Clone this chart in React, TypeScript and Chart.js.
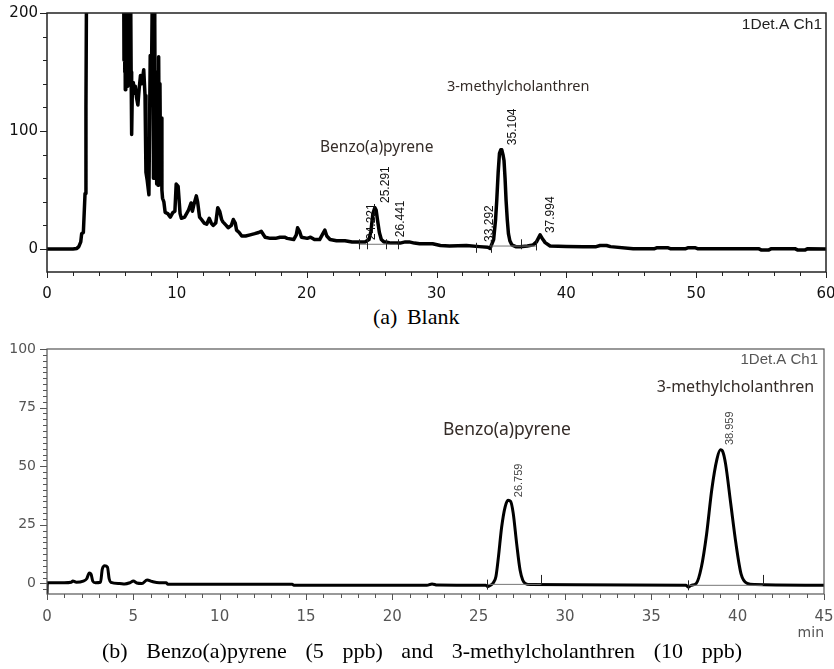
import React, { useEffect, useRef } from "react";
import { Chart, registerables } from "chart.js";
Chart.register(...registerables);

// ---------- (a) Blank ----------
const blankTime = [
  0, 1.0, 2.0, 2.3, 2.45, 2.6, 2.67, 2.8, 2.93, 3.0, 3.06, 3.3, 4.5, 5.5, 5.9,
  5.93, 5.955, 5.98, 6.005, 6.03, 6.055, 6.08, 6.105, 6.13, 6.155, 6.18, 6.205, 6.23, 6.255, 6.28,
  6.305, 6.33, 6.355, 6.38, 6.405, 6.43, 6.455, 6.48, 6.52, 6.58, 6.65,
  6.72, 6.8, 6.9, 7.0, 7.1, 7.2, 7.3, 7.45, 7.55, 7.62, 7.72, 7.85, 7.95, 8.05, 8.15,
  8.2, 8.25, 8.3, 8.35, 8.4, 8.45, 8.5, 8.55, 8.6, 8.65, 8.7, 8.75, 8.8, 8.85, 8.9,
  9.0, 9.1, 9.3, 9.5, 9.7, 9.85,
  9.95, 10.1, 10.25, 10.35, 10.6, 10.9, 11.1, 11.2, 11.3, 11.5, 11.6, 11.75, 11.9, 12.1, 12.3,
  12.5, 12.65, 12.8, 13.0, 13.15, 13.3, 13.45, 13.55, 13.8, 13.95, 14.2, 14.35, 14.5, 14.6, 14.8,
  15.0, 15.3, 15.65, 16.0, 16.3, 16.5, 16.8, 17.2, 17.6, 17.95, 18.3, 18.5, 19.0, 19.2, 19.3,
  19.45, 19.6, 20.05, 20.3, 20.6, 21.0, 21.25, 21.4, 21.55, 21.8, 22.3, 22.95, 23.5, 24.25, 24.5,
  24.8, 24.95, 25.1, 25.25, 25.35, 25.45, 25.6, 25.75, 25.95, 26.1, 26.5, 27.2, 27.6, 27.9, 28.3,
  28.7, 29.7, 30.3, 31.0, 32.3, 33.3, 33.95, 34.13, 34.4, 34.55, 34.64, 34.75, 34.85, 34.95, 35.03,
  35.12, 35.2, 35.28, 35.36, 35.45, 35.54, 35.65, 35.8, 36.1, 36.44, 37.0, 37.45, 37.7, 37.98, 38.2,
  38.37, 38.75, 40.0, 41.3, 42.3, 42.6, 43.1, 43.4, 45.15, 46.8, 47.0, 47.8, 48.0, 49.2, 49.4,
  49.9, 50.1, 54.8, 55.0, 55.6, 55.8, 57.6, 57.8, 58.4, 58.6, 60,
];
const blankSignal = [
  0, 0, 0, 0.5, 2, 6, 13, 14, 47, 120, 260, 420, 500, 420, 250,
  160, 230, 150, 215, 135, 250, 140, 240, 140, 260, 145, 220, 138, 250, 142,
  230, 139, 240, 150, 230, 145, 220, 150, 97, 140, 141,
  132, 138, 128, 122, 136, 147, 140, 152, 130, 65, 58, 46, 164, 150, 260,
  60, 200, 192, 60, 120, 55, 150, 54, 163, 70, 140, 60, 111, 50, 43,
  40, 31, 30, 27, 31, 32,
  55, 53, 30, 26, 27, 33, 39, 32, 37, 45, 40, 27, 25, 22, 21,
  26, 22, 20, 22, 35, 32, 25, 23, 20, 18, 20, 25, 22, 16, 14,
  11, 11, 12, 13, 14, 15, 10, 9, 9, 10, 10, 9, 8, 12, 18,
  15, 10, 9, 10, 8, 8, 13, 16, 11, 8, 7, 7, 6, 6, 6,
  8, 15, 30, 35, 33, 25, 14, 8, 6, 6, 5, 5, 6, 6, 5,
  4.5, 4.5, 3, 2.5, 3, 2, 1.5, 0.5, 8, 25, 41, 65, 81, 84, 84,
  80, 75, 60, 41, 25, 13, 7, 3.5, 2, 2, 2.5, 3.5, 6, 12, 8,
  5.4, 2.5, 2.2, 2, 2, 3, 3, 2, 0.3, 0.3, 1.1, 1.1, 0.3, 0.3, 1.1,
  1.1, 0.3, 0.3, -0.8, -0.8, 0.3, 0.3, -0.8, -0.8, 0.3, 0,
];
const blankXTicks = [0, 10, 20, 30, 40, 50, 60];
const blankYTicks = [0, 100, 200];
const blankPeakTimes = [24.221, 25.291, 26.441, 33.292, 35.104, 37.994];
const blankPeakLabelLevels = [7.6, 39, 10, 6, 88, 13.5];
const blankBaseStart = [24.0, 34.13];
const blankBaseEnd = [27.0, 37.7];
const blankBaseLevel = [4, 2.5];
const blankMarkTimes = [24.0, 24.65, 26.1, 27.0, 33.05, 34.2, 36.5, 37.7];
const blankMarkLevels = [4, 4, 4, 4, 1, 1, 4, 3];
const blankNames = ["Benzo(a)pyrene", "3-methylcholanthren"];
const blankNameTimes = [21.03, 30.8];
const blankNameLevels = [85.6, 137];

// ---------- (b) Standards ----------
const stdTime = [
  0, 0.02, 1.0, 1.4, 1.5, 1.7, 2.1, 2.3, 2.45, 2.55, 2.65, 2.8, 3.1, 3.2, 3.35,
  3.5, 3.6, 3.7, 4.2, 4.5, 4.8, 5.0, 5.2, 5.5, 5.8, 6.1, 6.5, 6.9, 7.0, 14.2,
  14.3, 22.0, 22.3, 22.6, 25.4, 25.55, 25.7, 25.85, 26.0, 26.14, 26.33, 26.53, 26.7, 26.85, 27.0,
  27.2, 27.4, 27.55, 27.7, 28.0, 37.0, 37.15, 37.3, 37.6, 37.9, 38.2, 38.5, 38.8, 39.0, 39.15,
  39.3, 39.6, 39.9, 40.2, 40.55, 41.0, 45,
];
const stdSignal = [
  -4.5, 0.3, 0.3, 0.5, 1, 0.5, 1, 2, 4.5, 4, 1, 0.3, 0.5, 6, 7.5,
  7, 2, 0.5, 0, -0.2, 0.3, 1, 0.2, 0, 1.5, 0.8, 0.3, 0.3, -0.3, -0.3,
  -0.8, -0.8, -0.2, -0.7, -0.8, -1.3, -0.7, 0.3, 3, 11, 24, 32.6, 35.5, 35, 30,
  17, 5.6, 1.5, 0, -0.5, -0.8, -1.6, -0.8, 0, 7, 21, 40, 53, 57, 56,
  51, 34, 17, 4, 0, -0.5, -0.8,
];
const stdXTicks = [0, 5, 10, 15, 20, 25, 30, 35, 40, 45];
const stdYTicks = [0, 25, 50, 75, 100];
const stdPeakTimes = [26.759, 38.959];
const stdPeakLabelLevels = [36.8, 59];
const stdBaseStart = [25.5, 37.2];
const stdBaseEnd = [28.6, 41.45];
const stdBaseLevel = [-0.4, -0.8];
const stdMarkTimes = [25.5, 28.6, 37.15, 41.45];
const stdMarkLevels = [-0.5, 1.5, -0.8, 1.5];
const stdNames = ["Benzo(a)pyrene", "3-methylcholanthren"];
const stdNameTimes = [22.93, 35.32];
const stdNameLevels = [65.4, 83.8];

type PanelCfg = {
  width: number;
  height: number;
  area: { left: number; top: number; right: number; bottom: number };
  time: number[];
  signal: number[];
  xMin: number; xMax: number; yMin: number; yMax: number;
  xTicks: number[]; yTicks: number[];
  xMinor: number; yMinor: number;
  peakTimes: number[]; peakLevels: number[];
  baseStart: number[]; baseEnd: number[]; baseLevel: number[];
  markTimes: number[]; markLevels: number[];
  names: string[]; nameTimes: number[]; nameLevels: number[];
  lineWidth: number; smooth: boolean;
  frameColor: string; frameWidth: number;
  tickColor: string; labelColor: string;
  xFont: string; yFont: string; xFontSize: number; yFontSize: number;
  xPad: number; yPad: number;
  peakFont: string; peakColor: string;
  nameFonts: string[]; nameColor: string;
  headerFont: string; headerColor: string; headerDx: number; headerDy: number;
  unit?: string;
};

function makeDecor(p: PanelCfg) {
  return {
    id: "decor",
    afterDatasetsDraw(chart: any) {
      const { ctx, chartArea: a } = chart;
      const x = chart.scales.x;
      const y = chart.scales.y;
      ctx.save();
      // frame
      ctx.strokeStyle = p.frameColor;
      ctx.lineWidth = p.frameWidth;
      ctx.strokeRect(a.left, a.top, a.right - a.left, a.bottom - a.top);
      // major / minor ticks
      ctx.strokeStyle = p.tickColor;
      ctx.lineWidth = 1;
      ctx.beginPath();
      for (let v = Math.ceil(p.xMin / p.xMinor) * p.xMinor; v <= p.xMax + 1e-9; v += p.xMinor) {
        const major = p.xTicks.some((t) => Math.abs(t - v) < 1e-6);
        const px = Math.round(x.getPixelForValue(v)) + 0.5;
        ctx.moveTo(px, a.bottom);
        ctx.lineTo(px, a.bottom + (major ? 6 : 4));
      }
      for (let v = Math.ceil(p.yMin / p.yMinor) * p.yMinor; v <= p.yMax + 1e-9; v += p.yMinor) {
        const major = p.yTicks.some((t) => Math.abs(t - v) < 1e-6);
        const py = Math.round(y.getPixelForValue(v)) + 0.5;
        ctx.moveTo(a.left, py);
        ctx.lineTo(a.left - (major ? 7 : 4), py);
      }
      ctx.stroke();
      // peak start/end markers
      ctx.strokeStyle = "#222";
      ctx.beginPath();
      p.markTimes.forEach((t, i) => {
        const px = Math.round(x.getPixelForValue(t)) + 0.5;
        const py = y.getPixelForValue(p.markLevels[i]);
        ctx.moveTo(px, py - 5);
        ctx.lineTo(px, py + 5);
      });
      ctx.stroke();
      // peak retention-time labels
      ctx.fillStyle = p.peakColor;
      ctx.font = p.peakFont;
      ctx.textAlign = "left";
      ctx.textBaseline = "middle";
      p.peakTimes.forEach((t, i) => {
        ctx.save();
        ctx.translate(x.getPixelForValue(t) + 10, y.getPixelForValue(p.peakLevels[i]));
        ctx.rotate(-Math.PI / 2);
        ctx.fillText(t.toFixed(3), 0, 0);
        ctx.restore();
      });
      // compound names
      ctx.fillStyle = p.nameColor;
      p.names.forEach((n, i) => {
        ctx.font = p.nameFonts[i];
        ctx.fillText(n, x.getPixelForValue(p.nameTimes[i]), y.getPixelForValue(p.nameLevels[i]));
      });
      // header
      ctx.fillStyle = p.headerColor;
      ctx.font = p.headerFont;
      ctx.textAlign = "right";
      ctx.fillText("1Det.A Ch1", a.right - p.headerDx, a.top + p.headerDy);
      if (p.unit) {
        ctx.fillStyle = p.labelColor;
        ctx.font = `${p.xFontSize - 1}px 'DejaVu Sans'`;
        ctx.textBaseline = "alphabetic";
        ctx.fillText(p.unit, a.right, a.bottom + 43);
      }
      ctx.restore();
    },
  };
}

function Panel({ p, top }: { p: PanelCfg; top: number }) {
  const ref = useRef<HTMLCanvasElement | null>(null);
  useEffect(() => {
    if (!ref.current) return;
    const trace = p.time.map((t, i) => ({ x: t, y: p.signal[i] }));
    const base: any[] = [];
    p.baseStart.forEach((s, i) => {
      base.push({ x: s, y: p.baseLevel[i] }, { x: p.baseEnd[i], y: p.baseLevel[i] }, { x: p.baseEnd[i], y: null });
    });
    const chart = new Chart(ref.current, {
      type: "line",
      data: {
        datasets: [
          {
            data: base as any,
            borderColor: "#777",
            borderWidth: 1,
            pointRadius: 0,
            spanGaps: false,
            tension: 0,
          },
          {
            data: trace as any,
            borderColor: "#000",
            borderWidth: p.lineWidth,
            pointRadius: 0,
            tension: 0,
            cubicInterpolationMode: p.smooth ? "monotone" : "default",
            borderJoinStyle: "round",
          } as any,
        ],
      },
      options: {
        animation: false,
        responsive: false,
        devicePixelRatio: 1,
        events: [],
        layout: {
          padding: { top: p.area.top, right: p.width - p.area.right, left: 0, bottom: 0 },
        },
        plugins: { legend: { display: false }, tooltip: { enabled: false }, title: { display: false } },
        scales: {
          x: {
            type: "linear",
            min: p.xMin,
            max: p.xMax,
            grid: { display: false, drawTicks: false },
            border: { display: false },
            afterBuildTicks: (s: any) => {
              s.ticks = p.xTicks.map((v) => ({ value: v }));
            },
            afterFit: (s: any) => {
              s.height = p.height - p.area.bottom;
              s.paddingLeft = 0;
              s.paddingRight = 0;
            },
            ticks: {
              autoSkip: false,
              maxRotation: 0,
              padding: p.xPad,
              color: p.labelColor,
              font: { family: p.xFont, size: p.xFontSize },
              callback: (v: any) => String(v),
            },
          },
          y: {
            type: "linear",
            min: p.yMin,
            max: p.yMax,
            grid: { display: false, drawTicks: false },
            border: { display: false },
            afterBuildTicks: (s: any) => {
              s.ticks = p.yTicks.map((v) => ({ value: v }));
            },
            afterFit: (s: any) => {
              s.width = p.area.left;
              s.paddingTop = 0;
              s.paddingBottom = 0;
            },
            ticks: {
              autoSkip: false,
              padding: p.yPad,
              color: p.labelColor,
              font: { family: p.yFont, size: p.yFontSize },
              callback: (v: any) => String(v),
            },
          },
        },
      },
      plugins: [makeDecor(p)],
    });
    return () => chart.destroy();
  }, [p]);
  return (
    <canvas
      ref={ref}
      width={p.width}
      height={p.height}
      style={{ position: "absolute", left: 0, top, width: p.width, height: p.height }}
    />
  );
}

const blankPanel: PanelCfg = {
  width: 834,
  height: 300,
  area: { left: 47, top: 13, right: 826, bottom: 272 },
  time: blankTime,
  signal: blankSignal,
  xMin: 0, xMax: 60, yMin: -19.5, yMax: 200,
  xTicks: blankXTicks, yTicks: blankYTicks,
  xMinor: 2, yMinor: 20,
  peakTimes: blankPeakTimes, peakLevels: blankPeakLabelLevels,
  baseStart: blankBaseStart, baseEnd: blankBaseEnd, baseLevel: blankBaseLevel,
  markTimes: blankMarkTimes, markLevels: blankMarkLevels,
  names: blankNames, nameTimes: blankNameTimes, nameLevels: blankNameLevels,
  lineWidth: 3.5, smooth: false,
  frameColor: "#222", frameWidth: 1.5,
  tickColor: "#222", labelColor: "#111",
  xFont: "DejaVu Sans", yFont: "DejaVu Sans", xFontSize: 15, yFontSize: 15,
  xPad: 13, yPad: 9,
  peakFont: "12px 'Liberation Sans'", peakColor: "#111",
  nameFonts: ["15.5px 'Noto Sans'", "14.5px 'Noto Sans'"], nameColor: "#352c28",
  headerFont: "15.5px 'Liberation Sans'", headerColor: "#222", headerDx: 4, headerDy: 12,
};

const stdPanel: PanelCfg = {
  width: 834,
  height: 339,
  area: { left: 47, top: 19, right: 824, bottom: 264 },
  time: stdTime,
  signal: stdSignal,
  xMin: 0, xMax: 45, yMin: -4.5, yMax: 100,
  xTicks: stdXTicks, yTicks: stdYTicks,
  xMinor: 1, yMinor: 2.5,
  peakTimes: stdPeakTimes, peakLevels: stdPeakLabelLevels,
  baseStart: stdBaseStart, baseEnd: stdBaseEnd, baseLevel: stdBaseLevel,
  markTimes: stdMarkTimes, markLevels: stdMarkLevels,
  names: stdNames, nameTimes: stdNameTimes, nameLevels: stdNameLevels,
  lineWidth: 3, smooth: true,
  frameColor: "#555", frameWidth: 1.2,
  tickColor: "#555", labelColor: "#555",
  xFont: "DejaVu Sans", yFont: "DejaVu Sans", xFontSize: 15, yFontSize: 14,
  xPad: 14, yPad: 11,
  peakFont: "11px 'Liberation Sans'", peakColor: "#444",
  nameFonts: ["17.5px 'Noto Sans'", "16px 'Noto Sans'"], nameColor: "#352c28",
  headerFont: "15px 'Liberation Sans'", headerColor: "#555", headerDx: 6, headerDy: 11,
  unit: "min",
};

export default function App() {
  const caption: React.CSSProperties = {
    position: "absolute",
    fontFamily: "'Liberation Serif', 'Times New Roman', serif",
    fontSize: 22,
    lineHeight: "26px",
    color: "#000",
    whiteSpace: "nowrap",
  };
  return (
    <div style={{ position: "absolute", left: 0, top: 0, width: 834, height: 669, background: "#fff" }}>
      <Panel p={blankPanel} top={0} />
      <Panel p={stdPanel} top={330} />
      <div style={{ ...caption, left: 373, top: 304, wordSpacing: 4 }}>(a) Blank</div>
      <div
        style={{
          ...caption,
          left: 102,
          top: 638,
          width: 640,
          textAlign: "justify",
          textAlignLast: "justify",
          whiteSpace: "normal",
        }}
      >
        (b) Benzo(a)pyrene (5 ppb) and 3-methylcholanthren (10 ppb)
      </div>
    </div>
  );
}
